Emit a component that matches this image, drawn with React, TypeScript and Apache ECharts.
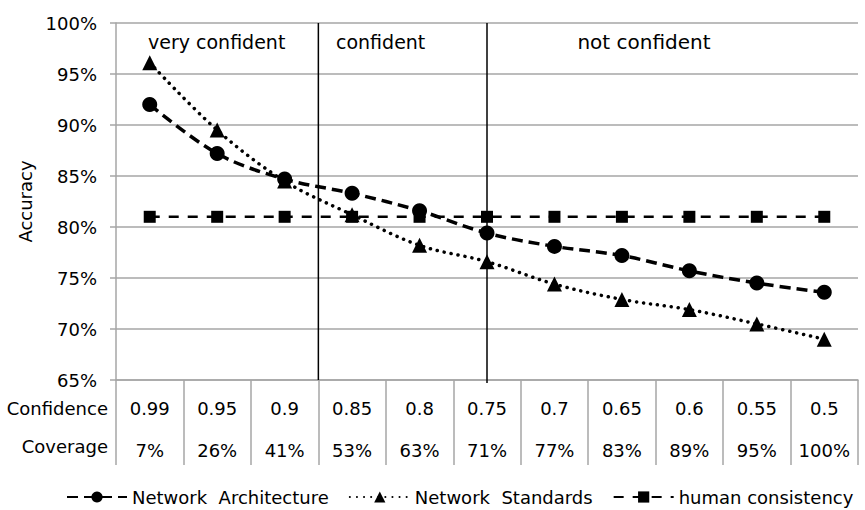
import React, { useEffect, useRef } from "react";
import * as echarts from "echarts";

const confidence = ["0.99", "0.95", "0.9", "0.85", "0.8", "0.75", "0.7", "0.65", "0.6", "0.55", "0.5"];
const coverage = ["7%", "26%", "41%", "53%", "63%", "71%", "77%", "83%", "89%", "95%", "100%"];
const networkArchitecture = [92.0, 87.2, 84.7, 83.3, 81.6, 79.4, 78.1, 77.2, 75.7, 74.5, 73.6];
const networkStandards = [96.1, 89.5, 84.5, 81.2, 78.2, 76.6, 74.4, 72.9, 71.9, 70.5, 69.0];
const humanConsistency = [81, 81, 81, 81, 81, 81, 81, 81, 81, 81, 81];
// dividers: between categories 2 and 3, and through category 5
const dividerPairs: [number, number][] = [[2, 3], [5, 5]];
const seriesNames = ["Network  Architecture", "Network  Standards", "human consistency"];

const FONT = "DejaVu Sans";

export default function App() {
  const ref = useRef<HTMLDivElement>(null);
  useEffect(() => {
    if (!ref.current) return;
    const chart = echarts.init(ref.current, null, { renderer: "svg" });
    const categories = confidence.map((c, i) => c + "\n" + coverage[i]);
    const textEls: any[] = [
      { type: "text", x: 108, y: 408, style: { text: "Confidence", fontSize: 18, fontFamily: FONT, fill: "#000", textAlign: "right", textVerticalAlign: "middle" } },
      { type: "text", x: 108, y: 446, style: { text: "Coverage", fontSize: 18, fontFamily: FONT, fill: "#000", textAlign: "right", textVerticalAlign: "middle" } },
      { type: "text", x: 148, y: 42, style: { text: "very confident", fontSize: 19, fontFamily: FONT, fill: "#000", textVerticalAlign: "middle" } },
      { type: "text", x: 336, y: 42, style: { text: "confident", fontSize: 19, fontFamily: FONT, fill: "#000", textVerticalAlign: "middle" } },
      { type: "text", x: 644, y: 42, style: { text: "not confident", fontSize: 20, fontFamily: FONT, fill: "#000", textAlign: "center", textVerticalAlign: "middle" } },
    ];
    chart.setOption({
      animation: false,
      backgroundColor: "#fff",
      textStyle: { fontFamily: FONT, color: "#000" },
      grid: { left: 116, right: 7, top: 23, bottom: 130, containLabel: false },
      xAxis: {
        type: "category",
        data: categories,
        boundaryGap: true,
        axisLine: { show: true, lineStyle: { color: "#a6a6a6", width: 1.5 } },
        axisTick: { show: true, interval: 0, length: 85, lineStyle: { color: "#a6a6a6", width: 1.5 } },
        axisLabel: {
          interval: 0,
          margin: 7,
          fontSize: 18,
          lineHeight: 42,
          color: "#000",
          fontFamily: FONT,
        },
        splitLine: { show: false },
      },
      yAxis: {
        type: "value",
        min: 65,
        max: 100,
        interval: 5,
        name: "Accuracy",
        nameLocation: "middle",
        nameGap: 73,
        nameTextStyle: { fontSize: 18, color: "#000", fontFamily: FONT },
        axisLine: { show: true, lineStyle: { color: "#a6a6a6", width: 1.5 } },
        axisTick: { show: true, length: 6, lineStyle: { color: "#a6a6a6", width: 1.5 } },
        axisLabel: { formatter: "{value}%", fontSize: 18, color: "#000", margin: 19, fontFamily: FONT },
        splitLine: { show: true, lineStyle: { color: "#a6a6a6", width: 1.5 } },
      },
      legend: {
        bottom: 4,
        left: 66,
        padding: 0,
        data: seriesNames,
        itemWidth: 60,
        itemHeight: 14,
        itemGap: 20,
        textStyle: { fontSize: 18, color: "#000", fontFamily: FONT },
      },
      graphic: textEls,
      series: [
        {
          name: seriesNames[0],
          type: "line",
          data: networkArchitecture,
          smooth: 0.35,
          symbol: "circle",
          symbolSize: 15,
          itemStyle: { color: "#000" },
          lineStyle: { color: "#000", width: 3.5, type: [11, 6] },
          z: 3,
        },
        {
          name: seriesNames[1],
          type: "line",
          data: networkStandards,
          smooth: 0.35,
          symbol: "triangle",
          symbolSize: 15,
          itemStyle: { color: "#000" },
          lineStyle: { color: "#000", width: 3.5, type: [0.1, 7], cap: "round" },
          z: 3,
        },
        {
          name: seriesNames[2],
          type: "line",
          data: humanConsistency,
          symbol: "rect",
          symbolSize: 12,
          itemStyle: { color: "#000" },
          lineStyle: { color: "#000", width: 2.5, type: [10, 9] },
          z: 2,
        },
      ],
    });
    const yTop = chart.convertToPixel({ yAxisIndex: 0 }, 100) as number;
    const yBottom = chart.convertToPixel({ yAxisIndex: 0 }, 65) as number;
    const lines = dividerPairs.map(([a, b], i) => {
      const xa = chart.convertToPixel({ xAxisIndex: 0 }, a) as number;
      const xb = chart.convertToPixel({ xAxisIndex: 0 }, b) as number;
      const x = (xa + xb) / 2;
      return {
        type: "line",
        z: 10,
        silent: true,
        shape: { x1: x, y1: yTop, x2: x, y2: yBottom + (i === 1 ? 3 : 0) },
        style: { stroke: "#000", lineWidth: 1.5 },
      };
    });
    chart.setOption({ graphic: [...textEls, ...lines] });
    return () => chart.dispose();
  }, []);
  return <div ref={ref} style={{ width: 865, height: 510, position: "absolute", left: 0, top: 0 }} />;
}
